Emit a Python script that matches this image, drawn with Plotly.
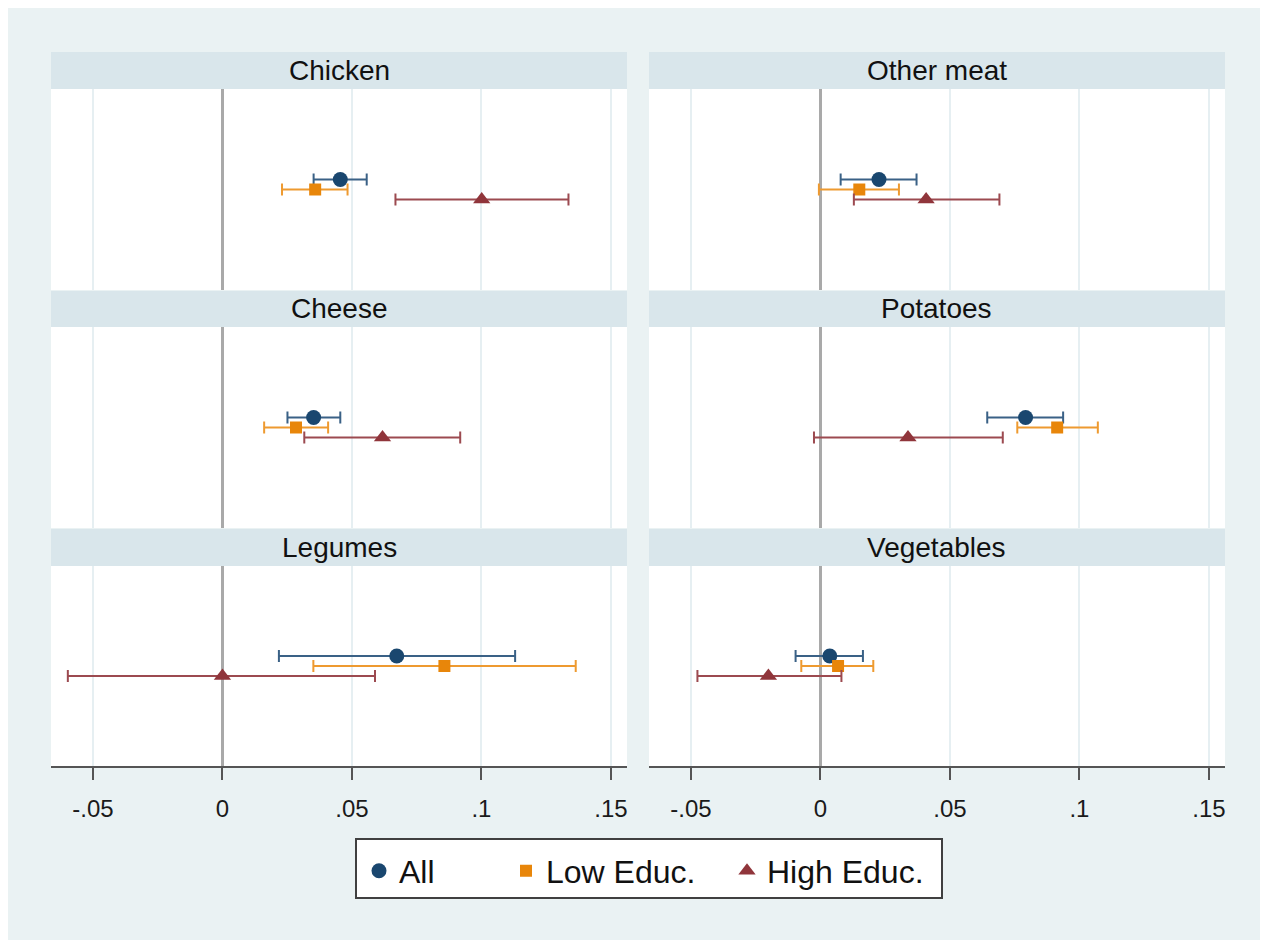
import plotly.graph_objects as go

# ---- data ----
categories = ["Chicken", "Other meat", "Cheese", "Potatoes", "Legumes", "Vegetables"]
series_names = ["All", "Low Educ.", "High Educ."]

all_coef = [0.0455, 0.0226, 0.0352, 0.0792, 0.0673, 0.0036]
all_lo = [0.0352, 0.0078, 0.0251, 0.0644, 0.0218, -0.0096]
all_hi = [0.0557, 0.0371, 0.0455, 0.0937, 0.1130, 0.0164]

low_coef = [0.0358, 0.0150, 0.0284, 0.0914, 0.0857, 0.0068]
low_lo = [0.0230, -0.0006, 0.0161, 0.0760, 0.0351, -0.0074]
low_hi = [0.0483, 0.0303, 0.0408, 0.1071, 0.1364, 0.0204]

high_coef = [0.1001, 0.0408, 0.0618, 0.0338, 0.0000, -0.0201]
high_lo = [0.0668, 0.0129, 0.0316, -0.0025, -0.0597, -0.0475]
high_hi = [0.1336, 0.0691, 0.0918, 0.0704, 0.0589, 0.0081]

tick_vals = [-0.05, 0, 0.05, 0.1, 0.15]
tick_text = ["-.05", "0", ".05", ".1", ".15"]

# ---- styling ----
OFF = 8                     # default page body margin
W, H = 1252, 932
BG = "#EAF2F3"
STRIP = "#D9E6EB"
FONT = "Liberation Sans, Arial, sans-serif"


def px(x):
    return (x - OFF) / W


def py(y):
    return 1 - (y - OFF) / H


styles = [
    dict(color="#1A476F", bar="#3A6186", symbol="circle", size=15, ypos=1.1),
    dict(color="#E8860A", bar="#EE9A30", symbol="square", size=12, ypos=1.0),
    dict(color="#90353B", bar="#9C4A50", symbol="triangle-up", size=15, ypos=0.9),
]
data = [(all_coef, all_lo, all_hi), (low_coef, low_lo, low_hi), (high_coef, high_lo, high_hi)]
legend_ids = ["legend", "legend2", "legend3"]
legend_left = [359, 506, 727]

# panel geometry in screen pixels
col_x = [(51, 627), (649, 1225)]
row_y = [(52, 89, 290), (291, 327, 528), (529, 566, 766)]  # strip top, plot top, plot bottom

fig = go.Figure()

xr = [-0.0662, 0.1562]
shapes = []
annotations = []

for i, cat in enumerate(categories):
    r, c = divmod(i, 2)
    n = i + 1
    xa = "x" if n == 1 else f"x{n}"
    ya = "y" if n == 1 else f"y{n}"
    xl = "xaxis" if n == 1 else f"xaxis{n}"
    yl = "yaxis" if n == 1 else f"yaxis{n}"
    x0, x1 = col_x[c]
    st, pt, pb = row_y[r]
    bottom = (r == 2)
    fig.layout[xl] = dict(
        domain=[px(x0), px(x1)], range=xr, anchor=ya,
        tickvals=tick_vals, ticktext=tick_text,
        showticklabels=bottom, ticks="outside" if bottom else "",
        ticklen=12, tickwidth=1.5, tickcolor="#555555",
        ticklabelstandoff=8,
        showline=bottom, linecolor="#555555", linewidth=1.5,
        showgrid=True, gridcolor="#E6EFF2", gridwidth=1.5,
        zeroline=True, zerolinecolor="#A9A9A9", zerolinewidth=2.5,
        tickfont=dict(family=FONT, size=24, color="#1a1a1a"),
        fixedrange=True,
    )
    fig.layout[yl] = dict(
        domain=[py(pb), py(pt)], range=[0, 2], anchor=xa,
        showticklabels=False, showgrid=False, zeroline=False, showline=False,
        ticks="", fixedrange=True,
    )
    # strip
    shapes.append(dict(type="rect", xref="paper", yref="paper",
                       x0=px(x0), x1=px(x1), y0=py(pt), y1=py(st),
                       fillcolor=STRIP, line=dict(width=0), layer="below"))
    annotations.append(dict(text=cat, xref="paper", yref="paper",
                            x=px((x0 + x1) / 2), y=py((st + pt) / 2),
                            xanchor="center", yanchor="middle", showarrow=False,
                            font=dict(family=FONT, size=28, color="#111111")))
    for s, (coef, lo, hi) in enumerate(data):
        st_ = styles[s]
        fig.add_trace(go.Scatter(
            x=[coef[i]], y=[st_["ypos"]], xaxis=xa, yaxis=ya,
            mode="markers", name=series_names[s],
            legendgroup=series_names[s], showlegend=(i == 0),
            legend=legend_ids[s],
            marker=dict(color=st_["color"], symbol=st_["symbol"], size=st_["size"]),
            error_x=dict(type="data", symmetric=False,
                         array=[hi[i] - coef[i]], arrayminus=[coef[i] - lo[i]],
                         color=st_["bar"], thickness=2, width=6),
        ))

# legend box
shapes.append(dict(type="rect", xref="paper", yref="paper",
                   x0=px(356), x1=px(942), y0=py(898), y1=py(839),
                   fillcolor="white", line=dict(color="#404040", width=2), layer="below"))

legend_common = dict(orientation="h", xanchor="left", y=py(871), yanchor="middle",
                     bgcolor="rgba(0,0,0,0)", borderwidth=0,
                     font=dict(family=FONT, size=32, color="#111111"),
                     itemsizing="trace")

fig.update_layout(
    width=W, height=H,
    margin=dict(l=0, r=0, t=0, b=0),
    paper_bgcolor=BG, plot_bgcolor="white",
    shapes=shapes, annotations=annotations,
    showlegend=True,
    legend=dict(x=px(legend_left[0]), **legend_common),
    legend2=dict(x=px(legend_left[1]), **legend_common),
    legend3=dict(x=px(legend_left[2]), **legend_common),
    font=dict(family=FONT),
)

fig.write_html("out.html")
